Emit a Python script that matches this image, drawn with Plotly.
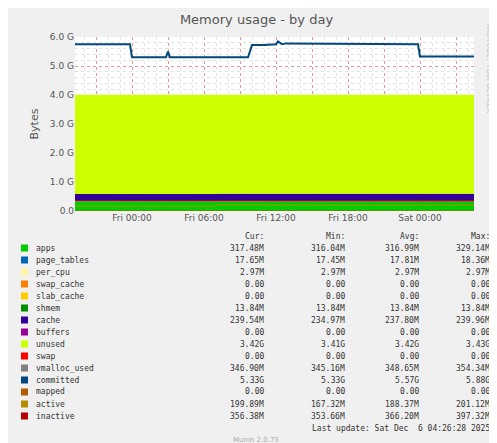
import plotly.graph_objects as go

G = 1e9
t_start, t_end = "2025-12-04 19:15", "2025-12-06 04:30"
t_split = "2025-12-05 07:00"

# stacked areas (bytes), two segments: before / after ~Fri 07:00
area_names = ["apps", "page_tables", "per_cpu", "swap_cache", "slab_cache", "shmem", "cache", "buffers", "unused", "swap"]
area_colors = ["#00CC00", "#0066B3", "#FFF2A0", "#FF8000", "#FFCC00", "#008F00", "#330099", "#990099", "#CCFF00", "#FF0000"]
area_before = [316.5e6, 17.8e6, 2.97e6, 0, 0, 13.84e6, 236e6, 0, 3.42e9, 0]
area_after = [317.3e6, 17.7e6, 2.97e6, 0, 0, 13.84e6, 239.5e6, 0, 3.42e9, 0]

# lines
committed_t = ["2025-12-04 19:15", "2025-12-04 23:50", "2025-12-05 00:00", "2025-12-05 02:50", "2025-12-05 03:00",
               "2025-12-05 03:10", "2025-12-05 09:40", "2025-12-05 10:00", "2025-12-05 11:00", "2025-12-05 12:00",
               "2025-12-05 12:10", "2025-12-05 12:30", "2025-12-05 12:50", "2025-12-05 23:50", "2025-12-06 00:00",
               "2025-12-06 04:30"]
committed_v = [5.75e9, 5.75e9, 5.30e9, 5.30e9, 5.50e9, 5.30e9, 5.30e9, 5.72e9, 5.72e9, 5.75e9,
               5.85e9, 5.75e9, 5.78e9, 5.75e9, 5.33e9, 5.33e9]
line_t = ["2025-12-04 19:15", "2025-12-05 06:59", "2025-12-05 07:00", "2025-12-06 04:30"]
vmalloc_v = [345.2e6, 346e6, 348e6, 346.9e6]
active_v = [170e6, 168e6, 200e6, 199.9e6]
inactive_v = [362e6, 364e6, 356e6, 356.4e6]
mapped_v = [0, 0, 0, 0]

legend_names = ["apps", "page_tables", "per_cpu", "swap_cache", "slab_cache", "shmem", "cache", "buffers", "unused",
                "swap", "vmalloc_used", "committed", "mapped", "active", "inactive"]
legend_colors = area_colors + ["#808080", "#00487D", "#B35A00", "#B38F00", "#B30000"]
cur = ["317.48M", "17.65M", "2.97M", "0.00", "0.00", "13.84M", "239.54M", "0.00", "3.42G", "0.00", "346.90M", "5.33G", "0.00", "199.89M", "356.38M"]
mn = ["316.04M", "17.45M", "2.97M", "0.00", "0.00", "13.84M", "234.97M", "0.00", "3.41G", "0.00", "345.16M", "5.33G", "0.00", "167.32M", "353.66M"]
avg = ["316.99M", "17.81M", "2.97M", "0.00", "0.00", "13.84M", "237.80M", "0.00", "3.42G", "0.00", "348.65M", "5.57G", "0.00", "188.37M", "366.20M"]
mx = ["329.14M", "18.36M", "2.97M", "0.00", "0.00", "13.84M", "239.96M", "0.00", "3.43G", "0.00", "354.34M", "5.88G", "0.00", "201.12M", "397.32M"]

fig = go.Figure()
area_t = [t_start, "2025-12-05 06:59", t_split, t_end]
for n, c, b, a in zip(area_names, area_colors, area_before, area_after):
    fig.add_trace(go.Scatter(x=area_t, y=[b, b, a, a], stackgroup="s", mode="none",
                             fillcolor=c, line=dict(width=0), name=n, hoverinfo="skip"))
for v, c, w in [(mapped_v, "#B35A00", 1), (vmalloc_v, "#808080", 1), (active_v, "#B38F00", 1), (inactive_v, "#B30000", 1.2)]:
    fig.add_trace(go.Scatter(x=line_t, y=v, mode="lines", line=dict(color=c, width=w)))
fig.add_trace(go.Scatter(x=committed_t, y=committed_v, mode="lines", line=dict(color="#00487D", width=2)))

tickvals = ["2025-12-04 21:00", "2025-12-05 00:00", "2025-12-05 03:00", "2025-12-05 06:00", "2025-12-05 09:00",
            "2025-12-05 12:00", "2025-12-05 15:00", "2025-12-05 18:00", "2025-12-05 21:00", "2025-12-06 00:00",
            "2025-12-06 03:00"]
ticktext = ["", "Fri 00:00", "", "Fri 06:00", "", "Fri 12:00", "", "Fri 18:00", "", "Sat 00:00", ""]

font = dict(family="DejaVu Sans", size=9, color="#555")
fig.update_layout(
    width=497, height=443, showlegend=False,
    margin=dict(l=67, r=31, t=29, b=240),
    paper_bgcolor="#F0F0F0", plot_bgcolor="white", font=font,
    title=dict(text="Memory usage - by day", x=0.5, xanchor="center", y=0.985, yanchor="top",
               font=dict(size=13, color="#555")),
    xaxis=dict(range=[t_start, t_end], tickvals=tickvals, ticktext=ticktext, showgrid=True, automargin=False,
               gridcolor="rgba(230,120,120,0.7)", griddash="dot", gridwidth=1, ticks="", zeroline=False,
               minor=dict(dtick=3600000, showgrid=True, gridcolor="#e2e2e2", griddash="dot"),
               showline=False),
    yaxis=dict(range=[0, 6.0e9], tickvals=[i * G for i in range(7)], automargin=False,
               ticktext=["0.0", "1.0 G", "2.0 G", "3.0 G", "4.0 G", "5.0 G", "6.0 G"],
               showgrid=True, gridcolor="rgba(230,120,120,0.7)", griddash="dot", ticks="", zeroline=False,
               minor=dict(dtick=0.2 * G, showgrid=True, gridcolor="#e2e2e2", griddash="dot"),
               title=dict(text="Bytes", font=dict(size=11, color="#555"), standoff=8)),
)

ann = []
mono = dict(family="DejaVu Sans Mono", size=8, color="#333")
for x, h in [(258, "Cur:"), (339, "Min:"), (413, "Avg:"), (484, "Max:")]:
    ann.append(dict(x=x, y=228, text=h, xanchor="right"))
for i, n in enumerate(legend_names):
    y = 240 + i * 12
    ann.append(dict(x=26, y=y, text=n, xanchor="left"))
    for x, col in [(258, cur), (339, mn), (413, avg), (484, mx)]:
        ann.append(dict(x=x, y=y, text=col[i], xanchor="right"))
    fig.add_shape(type="rect", xref="paper", yref="paper", x0=(13 - 67) / 399, x1=(20 - 67) / 399,
                  y0=(203 - y - 3.5) / 174, y1=(203 - y + 3.5) / 174, fillcolor=legend_colors[i],
                  line=dict(width=0))
ann.append(dict(x=484, y=420, text="Last update: Sat Dec  6 04:26:28 2025", xanchor="right"))
annotations = []
for a in ann:
    annotations.append(dict(xref="paper", yref="paper", x=(a["x"] - 67) / 399, y=(203 - a["y"]) / 174,
                            text=a["text"].replace("  ", "&nbsp; "), xanchor=a["xanchor"], yanchor="middle",
                            showarrow=False, font=mono))
annotations.append(dict(xref="paper", yref="paper", x=(248 - 67) / 399, y=(203 - 432) / 174, text="Munin 2.0.73",
                        showarrow=False, font=dict(family="DejaVu Sans", size=7, color="#aaa"), yanchor="middle"))
annotations.append(dict(xref="paper", yref="paper", x=(487 - 67) / 399, y=(203 - 60) / 174,
                        text="RRDTOOL / TOBI OETIKER", textangle=90, showarrow=False,
                        font=dict(family="DejaVu Sans", size=7, color="#bbb"), yanchor="middle"))
fig.update_layout(annotations=annotations)
fig.write_html("out.html")
